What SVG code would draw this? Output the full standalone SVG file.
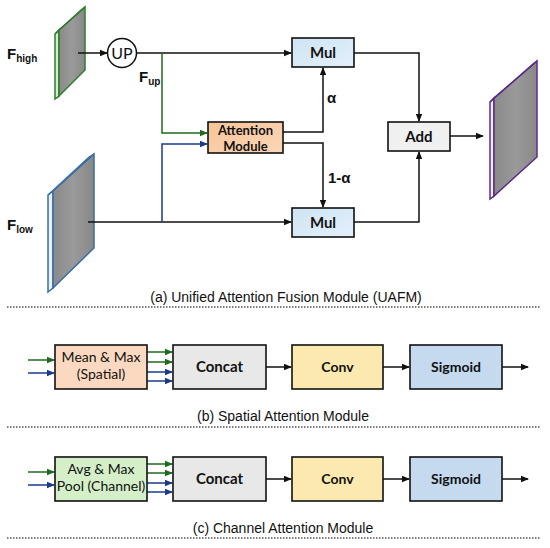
<svg xmlns="http://www.w3.org/2000/svg" width="550" height="548" viewBox="0 0 550 548">
<defs>
<marker id="ak" markerWidth="8" markerHeight="8" refX="7" refY="4" orient="auto" markerUnits="userSpaceOnUse"><path d="M0,0.8 L8,4 L0,7.2 Z" fill="#111"/></marker>
<marker id="ag" markerWidth="8" markerHeight="8" refX="7" refY="4" orient="auto" markerUnits="userSpaceOnUse"><path d="M0,0.8 L8,4 L0,7.2 Z" fill="#1e6b1e"/></marker>
<marker id="ab" markerWidth="8" markerHeight="8" refX="7" refY="4" orient="auto" markerUnits="userSpaceOnUse"><path d="M0,0.8 L8,4 L0,7.2 Z" fill="#1a3a8a"/></marker>
<linearGradient id="gMul" x1="0" y1="0" x2="1" y2="1"><stop offset="0" stop-color="#cfe4f4"/><stop offset="1" stop-color="#e3f0fa"/></linearGradient>
<linearGradient id="gAtt" x1="0" y1="0" x2="1" y2="1"><stop offset="0" stop-color="#f7c49a"/><stop offset="1" stop-color="#fbd6b6"/></linearGradient>
<linearGradient id="gPlate" x1="0" y1="0" x2="1" y2="0"><stop offset="0" stop-color="#8a8a8a"/><stop offset="0.5" stop-color="#9a9a9a"/><stop offset="1" stop-color="#888"/></linearGradient>
</defs>
<style>
.ln{fill:none;stroke:#111;stroke-width:1.5}
.g{fill:none;stroke:#1e6b1e;stroke-width:1.5}
.b{fill:none;stroke:#1a3a8a;stroke-width:1.5}
.box{stroke:#111;stroke-width:1.6}
.t{font-family:Lato,"Liberation Sans",sans-serif;font-weight:bold;font-size:14px;fill:#111;text-anchor:middle}
.r{font-weight:normal;font-size:14px}
.lab{font-family:"Liberation Sans",Arial,sans-serif;font-weight:bold;font-size:15px;fill:#111}
.sub{font-size:10px}
.cap{font-family:"Liberation Sans",Arial,sans-serif;font-size:14px;fill:#111;text-anchor:middle}
.dot{stroke:#555;stroke-width:1.5;stroke-dasharray:1.5 1.5;fill:none}
</style>
<rect width="550" height="548" fill="#fff"/>

<g id="f-high">
<polygon points="55,34 59,30 59,96 55,99" fill="#d8ecd0" stroke="#2e7d2e" stroke-width="1.5"/>
<polygon points="59,30 85,7 85,70 59,96" fill="url(#gPlate)" stroke="#2e7d2e" stroke-width="1.5"/>
<polygon points="55,34 81,10 85,7 59,30" fill="#d8ecd0" stroke="#2e7d2e" stroke-width="1.2"/>
<text class="lab" x="7" y="59">F<tspan class="sub" dy="3">high</tspan></text>
</g>
<g id="f-low">
<polygon points="48,195 53,191 53,288 48,292" fill="#e8f1fb" stroke="#3a6ea5" stroke-width="1.5"/>
<polygon points="53,191 94,154 94,248 53,288" fill="url(#gPlate)" stroke="#3a6ea5" stroke-width="1.5"/>
<polygon points="48,195 89,157 94,154 53,191" fill="#e8f1fb" stroke="#3a6ea5" stroke-width="1.2"/>
<text class="lab" x="7" y="230">F<tspan class="sub" dy="3">low</tspan></text>
</g>
<g id="out">
<polygon points="490,102 494,98 494,196 490,199" fill="#f1ecf7" stroke="#5b2c8a" stroke-width="1.5"/>
<polygon points="494,98 537,61 537,157 494,196" fill="url(#gPlate)" stroke="#5b2c8a" stroke-width="1.5"/>
<polygon points="490,102 533,64 537,61 494,98" fill="#f1ecf7" stroke="#5b2c8a" stroke-width="1.2"/>
</g>
<g id="up">
<circle cx="122" cy="53" r="14.5" fill="#fff" stroke="#111" stroke-width="1.5"/>
<text x="122" y="58.5" text-anchor="middle" style="font-family:Lato,'Liberation Sans',sans-serif;font-size:16px;fill:#111">UP</text>
</g>
<g id="fup-label"><text class="lab" x="139" y="82">F<tspan class="sub" dy="3">up</tspan></text></g>
<g id="attention">
<rect class="box" x="208" y="122" width="75" height="31" fill="url(#gAtt)"/>
<text class="t" x="245.5" y="135" style="font-size:13px">Attention<tspan x="245.5" dy="15.5">Module</tspan></text>
</g>
<g id="mul1">
<rect class="box" x="292" y="38" width="62" height="29" fill="url(#gMul)"/>
<text class="t" x="323" y="58" style="font-size:15px">Mul</text>
</g>
<g id="mul2">
<rect class="box" x="292" y="208" width="62" height="29" fill="url(#gMul)"/>
<text class="t" x="323" y="228" style="font-size:15px">Mul</text>
</g>
<g id="add">
<rect class="box" x="388" y="122" width="62" height="29" fill="#f0f0f0"/>
<text class="t" x="419" y="142" style="font-size:15px">Add</text>
</g>
<g id="alpha-labels">
<text class="lab" x="327" y="103" style="font-size:15px">α</text>
<text class="lab" x="328" y="183" style="font-size:15px">1-α</text>
</g>

<g id="connectors">
<line class="ln" x1="78" y1="53" x2="107" y2="53" marker-end="url(#ak)"/>
<line class="ln" x1="136.5" y1="53" x2="291" y2="53" marker-end="url(#ak)"/>
<polyline class="g" points="162,53 162,133 207,133" marker-end="url(#ag)"/>
<line class="ln" x1="88" y1="222" x2="291" y2="222" marker-end="url(#ak)"/>
<polyline class="b" points="162,222 162,144 207,144" marker-end="url(#ab)"/>
<polyline class="ln" points="283,132 323,132 323,68" marker-end="url(#ak)"/>
<polyline class="ln" points="283,143 323,143 323,207" marker-end="url(#ak)"/>
<polyline class="ln" points="354,53 419,53 419,121" marker-end="url(#ak)"/>
<polyline class="ln" points="354,222 419,222 419,152" marker-end="url(#ak)"/>
<line class="ln" x1="450" y1="136" x2="483" y2="136" marker-end="url(#ak)"/>

<line class="g" x1="28" y1="360" x2="54" y2="360" marker-end="url(#ag)"/>
<line class="b" x1="28" y1="373" x2="54" y2="373" marker-end="url(#ab)"/>
<line class="g" x1="147" y1="352" x2="172" y2="352" marker-end="url(#ag)"/>
<line class="g" x1="147" y1="362" x2="172" y2="362" marker-end="url(#ag)"/>
<line class="b" x1="147" y1="372" x2="172" y2="372" marker-end="url(#ab)"/>
<line class="b" x1="147" y1="381" x2="172" y2="381" marker-end="url(#ab)"/>
<line class="ln" x1="266" y1="367" x2="291" y2="367" marker-end="url(#ak)"/>
<line class="ln" x1="383" y1="367" x2="409" y2="367" marker-end="url(#ak)"/>
<line class="ln" x1="502" y1="367" x2="528" y2="367" marker-end="url(#ak)"/>

<line class="g" x1="28" y1="472" x2="54" y2="472" marker-end="url(#ag)"/>
<line class="b" x1="28" y1="485" x2="54" y2="485" marker-end="url(#ab)"/>
<line class="g" x1="147" y1="464" x2="172" y2="464" marker-end="url(#ag)"/>
<line class="g" x1="147" y1="473" x2="172" y2="473" marker-end="url(#ag)"/>
<line class="b" x1="147" y1="483" x2="172" y2="483" marker-end="url(#ab)"/>
<line class="b" x1="147" y1="492" x2="172" y2="492" marker-end="url(#ab)"/>
<line class="ln" x1="266" y1="479" x2="291" y2="479" marker-end="url(#ak)"/>
<line class="ln" x1="383" y1="479" x2="409" y2="479" marker-end="url(#ak)"/>
<line class="ln" x1="502" y1="479" x2="528" y2="479" marker-end="url(#ak)"/>
</g>

<g id="mean-max">
<rect class="box" x="55" y="345" width="92" height="44" fill="#fbd9c0"/>
<text class="t r" x="101" y="362">Mean &amp; Max<tspan x="101" dy="17">(Spatial)</tspan></text>
</g>
<g id="concat-b">
<rect class="box" x="173" y="345" width="93" height="44" fill="#e8e8e8"/>
<text class="t" x="219.5" y="372" style="font-size:15px">Concat</text>
</g>
<g id="conv-b">
<rect class="box" x="292" y="345" width="91" height="44" fill="#fbe9b0"/>
<text class="t" x="337.5" y="372">Conv</text>
</g>
<g id="sigmoid-b">
<rect class="box" x="410" y="345" width="92" height="44" fill="#c5d9ef"/>
<text class="t" x="456" y="372">Sigmoid</text>
</g>

<g id="avg-max">
<rect class="box" x="55" y="457" width="92" height="44" fill="#d5f0c8"/>
<text class="t r" x="101" y="474">Avg &amp; Max<tspan x="101" dy="17">Pool (Channel)</tspan></text>
</g>
<g id="concat-c">
<rect class="box" x="173" y="457" width="93" height="44" fill="#e8e8e8"/>
<text class="t" x="219.5" y="484" style="font-size:15px">Concat</text>
</g>
<g id="conv-c">
<rect class="box" x="292" y="457" width="91" height="44" fill="#fbe9b0"/>
<text class="t" x="337.5" y="484">Conv</text>
</g>
<g id="sigmoid-c">
<rect class="box" x="410" y="457" width="92" height="44" fill="#c5d9ef"/>
<text class="t" x="456" y="484">Sigmoid</text>
</g>

<g id="captions">
<text class="cap" x="286" y="302">(a) Unified Attention Fusion Module (UAFM)</text>
<text class="cap" x="283" y="421">(b) Spatial Attention Module</text>
<text class="cap" x="283" y="533">(c) Channel Attention Module</text>
<line class="dot" x1="7" y1="307" x2="540" y2="307"/>
<line class="dot" x1="7" y1="427" x2="540" y2="427"/>
<line class="dot" x1="7" y1="538" x2="540" y2="538"/>
</g>
</svg>
